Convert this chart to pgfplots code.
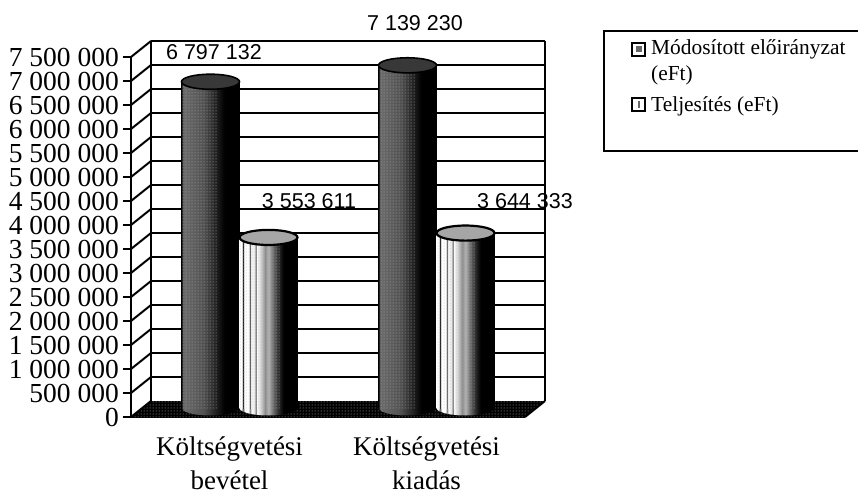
\documentclass[border=0pt]{standalone}
\usepackage{fontspec}
\setmainfont{Liberation Serif}
\newfontfamily\arial{Liberation Sans}
\usepackage{pgfplots}
\pgfplotsset{compat=1.18}
\usetikzlibrary{patterns}
\pgfdeclarehorizontalshading{sone}{100bp}{
  color(0bp)=(black);color(25bp)=(black);color(26.5bp)=(black!58);color(44bp)=(black!68);
  color(54bp)=(black!86);color(62bp)=(black);color(100bp)=(black)}
\pgfdeclarehorizontalshading{stwo}{100bp}{
  color(0bp)=(white);color(27bp)=(white);color(28bp)=(black);color(29bp)=(white);color(33bp)=(white);
  color(34bp)=(black!70);color(35bp)=(white);color(38bp)=(white!90!black);color(39bp)=(black!60);color(40bp)=(white);
  color(44bp)=(white!78!black);color(47bp)=(black!45);color(50bp)=(white!70!black);color(54bp)=(black!58);
  color(59bp)=(black!85);color(63bp)=(black);color(100bp)=(black)}
% half ellipse under a cylinder, round x = 0; #1 shading, #2 shift to the bar's centre
\newcommand\halfbase[2]{%
  \addplot[draw=none, shading=#1, xshift=#2, yshift=9pt] coordinates {(-0.1472,20000)(-0.1472,0)(-0.1423,-40442)(-0.1275,-78125)(-0.1041,-110485)(-0.0736,-135316)(-0.0381,-150925)(0,-156250)(0.0381,-150925)(0.0736,-135316)(0.1041,-110485)(0.1275,-78125)(0.1423,-40442)(0.1472,0)(0.1472,20000)} -- cycle;}
\begin{document}
\begin{tikzpicture}[x=1pt,y=1pt]
\clip (0,0) rectangle (858,-492);
\useasboundingbox (0,0) rectangle (858,-492);
\begin{axis}[
  at={(131pt,-417pt)}, anchor=south west,
  scale only axis, width=394pt, height=360pt,
  xmin=0, xmax=2, ymin=0, ymax=7500000,
  clip=false,
  axis x line*=left, axis y line*=left,
  axis line style={-, line width=2pt},
  ytick={0,500000,...,7500000},
  yticklabels={0,500 000,1 000 000,1 500 000,2 000 000,2 500 000,3 000 000,3 500 000,4 000 000,4 500 000,5 000 000,5 500 000,6 000 000,6 500 000,7 000 000,7 500 000},
  y tick label style={font=\fontsize{27.5}{27.5}\selectfont, inner sep=1pt, xshift=-3pt},
  xtick={0.5,1.5},
  xticklabels={{Költségvetési\\bevétel},{Költségvetési\\kiadás}},
  x tick label style={font=\fontsize{27}{34}\selectfont, align=center, inner sep=0pt, yshift=-11.5pt},
  extra x ticks={0,1,2},
  extra x tick labels={},
  tick align=outside,
  y tick style={line width=2pt, black},
  x tick style={draw=none},
  major tick length=8pt,
  extra x tick style={tick style={draw=black, line width=2pt}, major tick length=8pt},
  scaled ticks=false,
]
% floor
\addplot[draw=none, fill=black] coordinates {(0,0)(2,0)(2.1015,333333)(0.1015,333333)} -- cycle;
\addplot[draw=none, pattern=dots, pattern color=white!75!black] coordinates {(0,0)(2,0)(2.1015,333333)(0.1015,333333)} -- cycle;
% back wall grid lines
\pgfplotsinvokeforeach{500000,1000000,1500000,2500000,3500000,4000000,4500000,5000000,5500000,6000000,6500000,7000000,7500000}{
  \addplot[black, line width=2.2pt, xshift=20pt, yshift=16pt] coordinates {(0,#1)(2,#1)};
  \draw[line width=2pt] (axis cs:0,#1) -- ++(20pt,16pt);
}
\pgfplotsinvokeforeach{2000000,3000000}{
  \addplot[black, line width=1.2pt, xshift=20pt, yshift=16pt] coordinates {(0,#1)(2,#1)};
  \draw[line width=2pt] (axis cs:0,#1) -- ++(20pt,16pt);
}
\draw[line width=2pt] (axis cs:0,0) -- ++(20pt,16pt);
% back wall verticals
\addplot[black, line width=1.6pt, xshift=20pt, yshift=16pt] coordinates {(0,0)(0,7500000)};
\addplot[black, line width=1.6pt, xshift=20pt, yshift=16pt] coordinates {(2,0)(2,7500000)};
\addplot[black, line width=2pt] coordinates {(2,0)(2.1015,333333)};
% series 1: Módosított előirányzat
\halfbase{sone}{79.5pt}
\halfbase{sone}{276.5pt}
\addplot[ybar, bar width=58pt, bar shift=-29pt, xshift=10pt, yshift=9pt, draw=none, shading=sone] coordinates {(0.5,6797132)};
\addplot[ybar, bar width=58pt, bar shift=-29pt, xshift=10pt, yshift=9pt, draw=none, shading=sone] coordinates {(1.5,7139230)};
\addplot[ybar, bar width=36pt, bar shift=-40pt, xshift=10pt, yshift=9pt, draw=none, pattern=dots, pattern color=white!70!black] coordinates {(0.5,6797132)};
\addplot[ybar, bar width=36pt, bar shift=-40pt, xshift=10pt, yshift=9pt, draw=none, pattern=dots, pattern color=white!70!black] coordinates {(1.5,7139230)};
\addplot[only marks, mark=*, mark size=29pt, mark options={yscale=0.26, line width=1.6pt, draw=black, fill=black!78}, xshift=-19pt, yshift=9pt] coordinates {(0.5,6797132)(1.5,7139230)};
% series 2: Teljesítés
\halfbase{stwo}{137.5pt}
\halfbase{stwo}{334.5pt}
\addplot[ybar, bar width=58pt, bar shift=29pt, xshift=10pt, yshift=9pt, draw=none, shading=stwo] coordinates {(0.5,3553611)};
\addplot[ybar, bar width=58pt, bar shift=29pt, xshift=10pt, yshift=9pt, draw=none, shading=stwo] coordinates {(1.5,3644333)};
\addplot[ybar, bar width=40pt, bar shift=20pt, xshift=10pt, yshift=9pt, draw=none, pattern=dots, pattern color=white!70!black] coordinates {(0.5,3553611)};
\addplot[ybar, bar width=40pt, bar shift=20pt, xshift=10pt, yshift=9pt, draw=none, pattern=dots, pattern color=white!70!black] coordinates {(1.5,3644333)};
\addplot[only marks, mark=*, mark size=29pt, mark options={yscale=0.26, line width=2.2pt, draw=black, fill=black!35}, xshift=39pt, yshift=9pt] coordinates {(0.5,3553611)(1.5,3644333)};
% value labels
\node[font=\arial\fontsize{21.5}{21.5}\selectfont] at (axis cs:0.421,7600000) {6 797 132};
\node[font=\arial\fontsize{21.5}{21.5}\selectfont] at (axis cs:1.4416,8210000) {7 139 230};
\node[font=\arial\fontsize{21.5}{21.5}\selectfont] at (axis cs:0.9036,4500000) {3 553 611};
\node[font=\arial\fontsize{21.5}{21.5}\selectfont] at (axis cs:2.0,4500000) {3 644 333};
\end{axis}
% legend
\draw[line width=2pt] (604,-31) rectangle (870,-151);
\draw[line width=2pt, fill=white] (632,-43) rectangle (645,-56);
\fill[black!60] (635.5,-46.5) rectangle (641.5,-52.5);
\draw[line width=2pt, fill=white] (632,-98) rectangle (645,-111);
\fill[black!60] (637.5,-101) rectangle (639.5,-108);
\node[anchor=base west, inner sep=0pt, font=\fontsize{21.4}{21.4}\selectfont] at (651,-55) {Módosított előirányzat};
\node[anchor=base west, inner sep=0pt, font=\fontsize{21.4}{21.4}\selectfont] at (651,-81) {(eFt)};
\node[anchor=base west, inner sep=0pt, font=\fontsize{21.4}{21.4}\selectfont] at (651,-111) {Teljesítés (eFt)};
\end{tikzpicture}
\end{document}
